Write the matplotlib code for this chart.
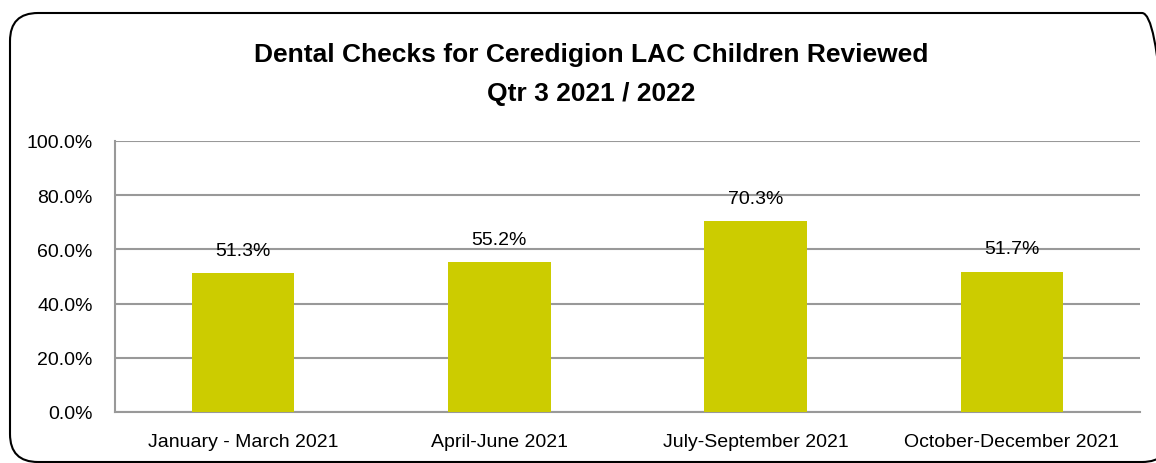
import matplotlib.pyplot as plt
from matplotlib.patches import FancyBboxPatch
from matplotlib.ticker import FuncFormatter

# Data
quarters = ['January - March 2021', 'April-June 2021', 'July-September 2021', 'October-December 2021']
pct_reviewed = [51.3, 55.2, 70.3, 51.7]

plt.rcParams['font.family'] = ['Liberation Sans', 'DejaVu Sans']

fig = plt.figure(figsize=(11.56, 4.64), dpi=100)
ax = fig.add_axes([115 / 1156, 51 / 464, 1025 / 1156, 271 / 464])

# Rounded outer border (display coords, partly cut off on the right)
border = FancyBboxPatch((10, 1), 1160, 449, boxstyle='round,pad=0,rounding_size=28',
                        transform=None, facecolor='none', edgecolor='black', linewidth=1.5)
fig.patches.append(border)

x = range(len(quarters))
bars = ax.bar(x, pct_reviewed, width=0.4, color='#CCCC00', zorder=3)

for xi, v in zip(x, pct_reviewed):
    ax.annotate(f'{v:.1f}%', (xi, v), xytext=(0, 16.5), textcoords='offset points',
                ha='center', va='center', fontsize=14)

ax.set_xlim(-0.5, len(quarters) - 0.5)
ax.set_ylim(0, 100)
ax.set_yticks([0, 20, 40, 60, 80, 100])
ax.yaxis.set_major_formatter(FuncFormatter(lambda v, p: f'{v:.1f}%'))
ax.set_xticks(list(x))
ax.set_xticklabels(quarters)
ax.tick_params(axis='both', length=0, labelsize=14)
ax.tick_params(axis='x', pad=15)
ax.tick_params(axis='y', pad=16)

ax.grid(axis='y', color='#999999', linewidth=1.5, zorder=0)
for s in ['top', 'right']:
    ax.spines[s].set_visible(False)
for s in ['left', 'bottom']:
    ax.spines[s].set_color('#999999')
    ax.spines[s].set_linewidth(1.5)

fig.text(591 / 1156, 1 - 55 / 464, 'Dental Checks for Ceredigion LAC Children Reviewed',
         ha='center', va='center', fontsize=19, fontweight='bold')
fig.text(591 / 1156, 1 - 94 / 464, 'Qtr 3 2021 / 2022',
         ha='center', va='center', fontsize=19, fontweight='bold')

fig.savefig('out.png', dpi=100)
